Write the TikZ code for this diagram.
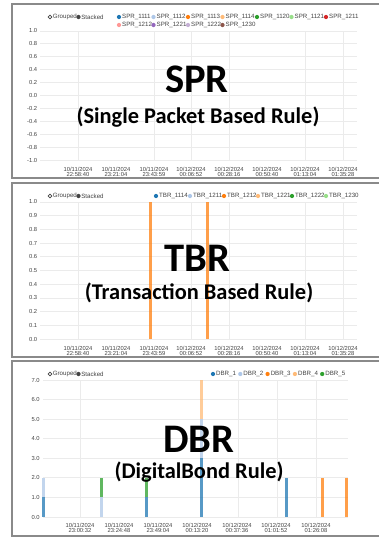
\documentclass[tikz,border=0pt]{standalone}
\usepackage{fontspec}
\setmainfont{Liberation Sans}
\newfontfamily\chtitlefont{Carlito}
\usetikzlibrary{positioning}
\definecolor{d3blue}   {HTML}{1F77B4}
\definecolor{d3lblue}  {HTML}{AEC7E8}
\definecolor{d3orange} {HTML}{FF7F0E}
\definecolor{d3lorange}{HTML}{FFBB78}
\definecolor{d3green}  {HTML}{2CA02C}
\definecolor{d3lgreen} {HTML}{98DF8A}
\definecolor{d3red}    {HTML}{D62728}
\definecolor{d3pink}   {HTML}{FF9896}
\definecolor{d3purple} {HTML}{9467BD}
\definecolor{d3lilac}  {HTML}{C5B0D5}
\definecolor{d3brown}  {HTML}{8C564B}
\definecolor{chgrid}   {HTML}{EBEBEB}
\definecolor{chframe}  {HTML}{8A8A8A}
\definecolor{chtext}   {HTML}{444444}
\tikzset{
  chframe/.style={draw=chframe, line width=0.9pt},
  chgridline/.style={draw=chgrid, line width=0.45pt},
  axlab/.style={font=\fontsize{3.3}{2.6}\selectfont, text=chtext, inner sep=0pt},
  leglab/.style={font=\fontsize{3.5}{4}\selectfont, text=chtext, inner sep=0pt, anchor=west},
  legdot/.style={radius=1.2pt},
  bigtitle/.style={font=\chtitlefont\bfseries\fontsize{23}{26}\selectfont, inner sep=0pt},
  subtitle/.style={font=\chtitlefont\bfseries\fontsize{12.7}{14}\selectfont, inner sep=0pt}
}
% Grouped / Stacked switch, #1 = height of the legend row
\newcommand{\chmode}[1]{%
  \draw[chtext, line width=0.35pt, radius=1.05pt] (50,#1) circle;
  \node[leglab] (grouped#1) at (52.5,#1) {Grouped};
  \fill[chtext, legdot] (78.5,#1) circle;
  \node[leglab] (stacked#1) at (81,#1) {Stacked};}
% one bar piece: x, from value, to value, colour
\newcommand{\chbar}[4]{%
  \fill[#4, fill opacity=0.75] (#1-1.5,#2) rectangle (#1+1.5,#3);}

\begin{document}
\begin{tikzpicture}[x=0.5669pt, y=-0.5669pt]
\useasboundingbox (0,0) rectangle (379,538);
\clip (0,0) rectangle (379,538);
\fill[white] (0,0) rectangle (379,538);

% ---------- SPR panel
\draw[chframe] (12,4) rectangle (384,178);
\chmode{17}
\foreach \c/\t [count=\i from 0] in {d3blue/1111,d3lblue/1112,d3orange/1113,
    d3lorange/1114,d3green/1120,d3lgreen/1121,d3red/1211}{
  \fill[\c, legdot] (119+34.5*\i,17) circle;
  \node[leglab] (sprleg\t) at (121.8+34.5*\i,17) {SPR\_\t};}
\foreach \c/\t [count=\i from 0] in {d3pink/1212,d3purple/1221,d3lilac/1222,d3brown/1230}{
  \fill[\c, legdot] (119+34.5*\i,25) circle;
  \node[leglab] (sprleg\t) at (121.8+34.5*\i,25) {SPR\_\t};}
\begin{scope}[shift={(0,95.5)}, y=36.57pt]
  \foreach \x in {78,154,191,229,305,343}
    \draw[chgridline] (\x,-1) -- (\x,1);
  \foreach \v/\t in {1/1.0,0.8/0.8,0.6/0.6,0.4/0.4,0.2/0.2,0/0.0,
      -0.2/-0.2,-0.4/-0.4,-0.6/-0.6,-0.8/-0.8,-1/-1.0}{
    \draw[chgridline] (40,\v) -- (357,\v);
    \node[axlab, anchor=east] (spry\t) at (37.5,\v) {\t};}
\end{scope}

% ---------- TBR panel
\draw[chframe] (12,183) rectangle (384,357);
\chmode{196}
\foreach \c/\t [count=\i from 0] in {d3blue/1114,d3lblue/1211,d3orange/1212,
    d3lorange/1221,d3green/1222,d3lgreen/1230}{
  \fill[\c, legdot] (156+34*\i,196) circle;
  \node[leglab] (tbrleg\t) at (158.8+34*\i,196) {TBR\_\t};}
\begin{scope}[shift={(0,339)}, y=77.67pt]
  \foreach \x in {78,191,229,305,343}
    \draw[chgridline] (\x,0) -- (\x,1);
  \foreach \v in {0,1,...,9}{
    \draw[chgridline] (40,\v/10) -- (357,\v/10);
    \node[axlab, anchor=east] (tbry\v) at (37.5,\v/10) {0.\v};}
  \draw[chgridline] (40,1) -- (357,1);
  \node[axlab, anchor=east] (tbry10) at (37.5,1) {1.0};
  \chbar{150}{0}{1}{d3orange}
  \chbar{207}{0}{1}{d3orange}
\end{scope}

% time labels of the two upper panels, cut at the plot edge
\begin{scope}
  \clip (0,0) rectangle (357,538);
  \foreach \x/\dd/\t in {78/11/22:58:40,116/11/23:21:04,154/11/23:43:59,
      191/12/00:06:52,229/12/00:28:16,267/12/00:50:40,305/12/01:13:04,
      343/12/01:35:28}{
    \node[axlab, align=center] (sprx\x) at (\x,172) {10/\dd/2024\\\t};
    \node[axlab, align=center] (tbrx\x) at (\x,351) {10/\dd/2024\\\t};}
\end{scope}

% ---------- DBR panel
\draw[chframe] (12,361) rectangle (384,536);
\chmode{374}
\foreach \c [count=\i] in {d3blue,d3lblue,d3orange,d3lorange,d3green}{
  \fill[\c, legdot] (213+27.3*\i-27.3,374) circle;
  \node[leglab] (dbrleg\i) at (215.8+27.3*\i-27.3,374) {DBR\_\i};}
\begin{scope}[shift={(0,517)}, y=11.094pt]
  \foreach \x in {80,238,277,316}
    \draw[chgridline] (\x,0) -- (\x,7);
  \foreach \v in {0,...,7}{
    \draw[chgridline] (43,\v) -- (348,\v);
    \node[axlab, anchor=east] (dbry\v) at (40,\v) {\v.0};}
  \chbar{43}{0}{1}{d3blue}   \chbar{43}{1}{2}{d3lblue}
  \chbar{101}{0}{1}{d3lblue} \chbar{101}{1}{2}{d3green}
  \chbar{146}{0}{1}{d3blue}  \chbar{146}{1}{2}{d3green}
  \chbar{201}{0}{3}{d3blue}  \chbar{201}{3}{5}{d3lblue}
  \chbar{201}{5}{7}{d3lorange}
  \chbar{286}{0}{2}{d3blue}
  \chbar{322}{0}{2}{d3orange}
  \chbar{346}{0}{2}{d3orange}
\end{scope}
\foreach \x/\dd/\t in {80/11/23:00:32,119/11/23:24:48,158/11/23:49:04,
    197/12/00:13:20,237/12/00:37:36,276/12/01:01:52,316/12/01:26:08}
  \node[axlab, align=center] (dbrx\x) at (\x,528) {10/\dd/2024\\\t};

% ---------- titles
\node[bigtitle] (sprname) at (197,79) {SPR};
\node[subtitle] (sprlong) at (198,117) {(Single Packet Based Rule)};
\node[bigtitle] (tbrname) at (197,258) {TBR};
\node[subtitle] (tbrlong) at (199,293) {(Transaction Based Rule)};
\node[bigtitle] (dbrname) at (199,439) {DBR};
\node[subtitle] (dbrlong) at (199,472) {(DigitalBond Rule)};
\end{tikzpicture}
\end{document}
